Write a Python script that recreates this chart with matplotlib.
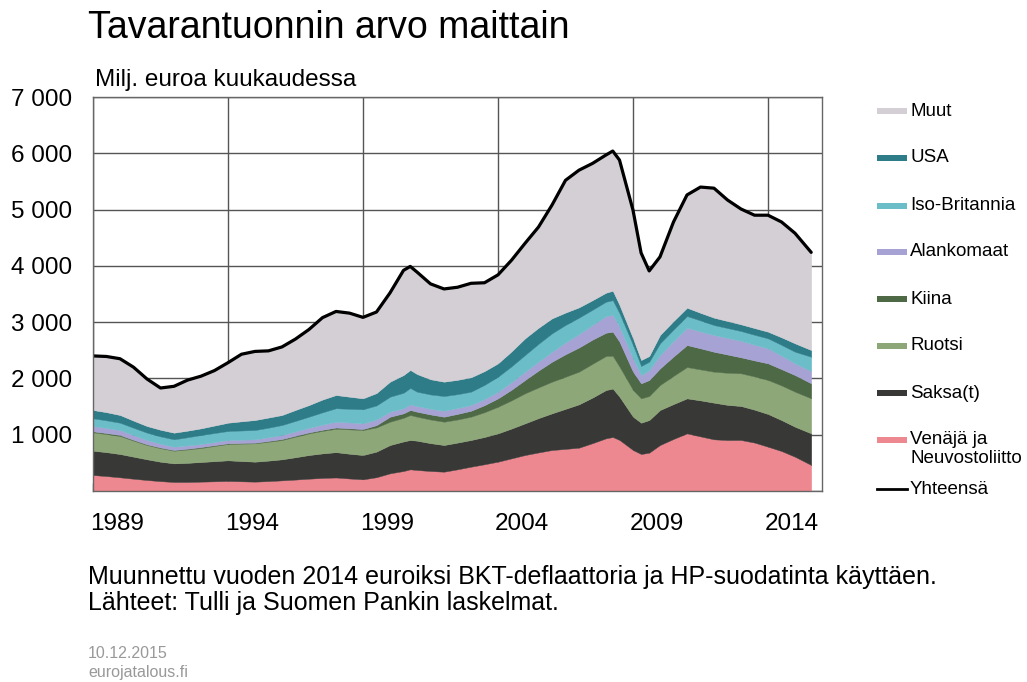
import numpy as np
import matplotlib
matplotlib.use("Agg")
import matplotlib.pyplot as plt
from matplotlib.patches import Rectangle
from matplotlib.lines import Line2D

plt.rcParams['font.family'] = ['Liberation Sans', 'DejaVu Sans']

# vuodet (puolivuosittain + muutama lisäpiste huippujen kohdalla)
years = [1989.0, 1989.5, 1990.0, 1990.5, 1991.0, 1991.5, 1992.0, 1992.5, 1993.0, 1993.5,
         1994.0, 1994.5, 1995.0, 1995.5, 1996.0, 1996.5, 1997.0, 1997.5, 1998.0, 1998.5,
         1999.0, 1999.5, 2000.0, 2000.5, 2000.75, 2001.0, 2001.5, 2002.0, 2002.5, 2003.0,
         2003.5, 2004.0, 2004.5, 2005.0, 2005.5, 2006.0, 2006.5, 2007.0, 2007.5, 2008.0,
         2008.25, 2008.5, 2009.0, 2009.3, 2009.6, 2010.0, 2010.5, 2011.0, 2011.5, 2012.0,
         2012.5, 2013.0, 2013.5, 2014.0, 2014.5, 2015.0, 2015.6]

# milj. euroa kuukaudessa
venaja = [284, 265, 243, 218, 195, 175, 160, 160, 166, 172, 178, 172, 166, 176, 189, 203, 219, 232, 240, 222,
          207, 245, 314, 355, 385, 373, 355, 343, 385, 432, 475, 521, 580, 639, 685, 728, 748, 770, 850, 936,
          959, 906, 728, 657, 681, 817, 925, 1024, 970, 918, 905, 906, 860, 787, 710, 609, 462]
saksa = [432, 425, 414, 392, 368, 345, 331, 340, 349, 358, 367, 360, 355, 364, 374, 397, 420, 436, 450, 440,
         432, 455, 503, 525, 521, 521, 495, 474, 475, 474, 485, 503, 530, 563, 610, 652, 712, 770, 810, 858,
         861, 769, 592, 556, 580, 622, 620, 622, 640, 651, 625, 604, 585, 581, 550, 533, 562]
ruotsi = [326, 322, 320, 285, 254, 240, 225, 238, 249, 270, 290, 310, 326, 335, 343, 365, 385, 400, 415, 433,
          444, 430, 414, 420, 444, 426, 420, 414, 410, 414, 440, 473, 500, 533, 545, 562, 570, 580, 600, 604,
          580, 533, 474, 433, 426, 444, 500, 556, 550, 550, 570, 581, 590, 604, 615, 622, 622]
kiina = [18, 18, 18, 15, 12, 13, 12, 14, 17, 15, 12, 11, 11, 15, 18, 18, 18, 20, 23, 20,
         18, 40, 89, 80, 89, 89, 90, 89, 100, 106, 125, 149, 190, 237, 300, 355, 400, 430, 430, 414,
         430, 444, 325, 267, 285, 296, 345, 391, 375, 355, 325, 284, 285, 296, 290, 296, 267]
alankomaat = [94, 90, 88, 83, 77, 67, 59, 58, 54, 55, 59, 59, 60, 65, 71, 77, 83, 92, 103, 103,
              101, 100, 89, 90, 101, 101, 100, 106, 105, 101, 110, 118, 135, 147, 160, 177, 210, 240, 260, 296,
              300, 266, 238, 147, 177, 237, 275, 308, 300, 297, 295, 295, 280, 267, 240, 208, 218]
britannia = [137, 135, 130, 130, 130, 130, 131, 145, 160, 160, 160, 163, 165, 170, 177, 185, 195, 218, 239, 242,
             249, 250, 266, 275, 290, 254, 255, 261, 245, 237, 250, 267, 280, 297, 315, 327, 310, 290, 270, 255,
             260, 238, 236, 160, 148, 207, 205, 207, 195, 177, 175, 172, 175, 177, 190, 206, 254]
usa = [148, 145, 137, 127, 118, 118, 118, 117, 118, 133, 147, 163, 178, 180, 178, 195, 207, 227, 235, 215,
       195, 220, 267, 315, 320, 314, 270, 255, 255, 256, 245, 237, 265, 296, 285, 266, 220, 183, 170, 160,
       168, 148, 119, 107, 101, 148, 150, 148, 135, 131, 125, 119, 120, 118, 135, 149, 119]
yhteensa = [2400, 2390, 2350, 2200, 1990, 1830, 1860, 1970, 2040, 2140, 2280, 2430, 2480, 2490, 2560, 2700,
            2870, 3080, 3190, 3160, 3085, 3180, 3520, 3920, 3990, 3890, 3680, 3590, 3620, 3690, 3700, 3840,
            4100, 4400, 4690, 5080, 5520, 5700, 5820, 5970, 6040, 5880, 4990, 4230, 3910, 4160, 4780, 5260,
            5400, 5380, 5170, 5010, 4900, 4900, 4780, 4580, 4240]

labels = ["Venäjä ja\nNeuvostoliitto", "Saksa(t)", "Ruotsi", "Kiina", "Alankomaat",
          "Iso-Britannia", "USA", "Muut"]
colors = ["#ee8890", "#383937", "#8ea779", "#4e6945", "#a6a3d4", "#6bbdc8", "#2d7c88", "#d4cfd5"]

x = np.array(years)
layers = np.array([venaja, saksa, ruotsi, kiina, alankomaat, britannia, usa], dtype=float)
muut = np.array(yhteensa) - layers.sum(axis=0)
layers = np.vstack([layers, muut])

W, H = 1027, 682
fig = plt.figure(figsize=(W / 100, H / 100), dpi=100)
ax = fig.add_axes([93 / W, 1 - 491 / H, (822 - 93) / W, (491 - 97) / H])

ax.stackplot(x, layers, colors=colors, edgecolor='face', linewidth=0.3, zorder=2)
ax.plot(x, yhteensa, color='black', linewidth=2.3, zorder=3, solid_capstyle='round', solid_joinstyle='round')

ax.set_xlim(1989, 2016)
ax.set_ylim(0, 7000)
ax.set_xticks([1989, 1994, 1999, 2004, 2009, 2014])
ax.set_xticklabels([])
ax.set_xticks([y + 0.9 for y in [1989, 1994, 1999, 2004, 2009, 2014]], minor=True)
ax.set_xticklabels(["1989", "1994", "1999", "2004", "2009", "2014"], minor=True)
ax.tick_params(axis='x', which='major', direction='in', length=6, color='#555555', width=1)
ax.tick_params(axis='x', which='minor', length=0, pad=16, labelsize=17.5)
ax.set_yticks(range(0, 7001, 1000))
ax.set_yticklabels([""] + ["{:,}".format(v).replace(",", " ") for v in range(1000, 7001, 1000)])
ax.tick_params(axis='y', length=0, pad=15, labelsize=17.5)
ax.set_axisbelow(True)
ax.grid(True, which='major', color='#555555', linewidth=1)
for s in ax.spines.values():
    s.set_color('#666666')
    s.set_linewidth(1)
    s.set_zorder(4)

fig.text(88 / W, 1 - 28 / H, "Tavarantuonnin arvo maittain", fontsize=27, va='center', ha='left')
fig.text(95 / W, 1 - 80 / H, "Milj. euroa kuukaudessa", fontsize=17.5, va='center', ha='left')
fig.text(88 / W, 1 - 577 / H, "Muunnettu vuoden 2014 euroiksi BKT-deflaattoria ja HP-suodatinta käyttäen.",
         fontsize=18, va='center', ha='left')
fig.text(88 / W, 1 - 603 / H, "Lähteet: Tulli ja Suomen Pankin laskelmat.", fontsize=18, va='center', ha='left')
fig.text(88 / W, 1 - 653 / H, "10.12.2015", fontsize=11.5, color='#999999', va='center', ha='left')
fig.text(88 / W, 1 - 673 / H, "eurojatalous.fi", fontsize=11.5, color='#999999', va='center', ha='left')

# selite käsin, ylhäältä alas
leg_y = [111, 158, 206, 252, 299, 346, 393, 440]
for lab, col, yy in zip(labels[::-1], colors[::-1], leg_y):
    fig.patches.append(Rectangle((877 / W, 1 - (yy + 3) / H), 30 / W, 6 / H,
                                 transform=fig.transFigure, facecolor=col, edgecolor='none'))
    fig.text(910 / W, 1 - yy / H, lab, fontsize=13.5, va='center', ha='left')
fig.texts[-1].set_position((910 / W, 1 - (yy - 9) / H))
fig.texts[-1].set_va('top')
fig.texts[-1].set_linespacing(1.15)
fig.lines.append(Line2D([877 / W, 907 / W], [1 - 489 / H, 1 - 489 / H], transform=fig.transFigure,
                        color='black', linewidth=2))
fig.text(910 / W, 1 - 489 / H, "Yhteensä", fontsize=13.5, va='center', ha='left')

fig.savefig("out.png", dpi=100)
